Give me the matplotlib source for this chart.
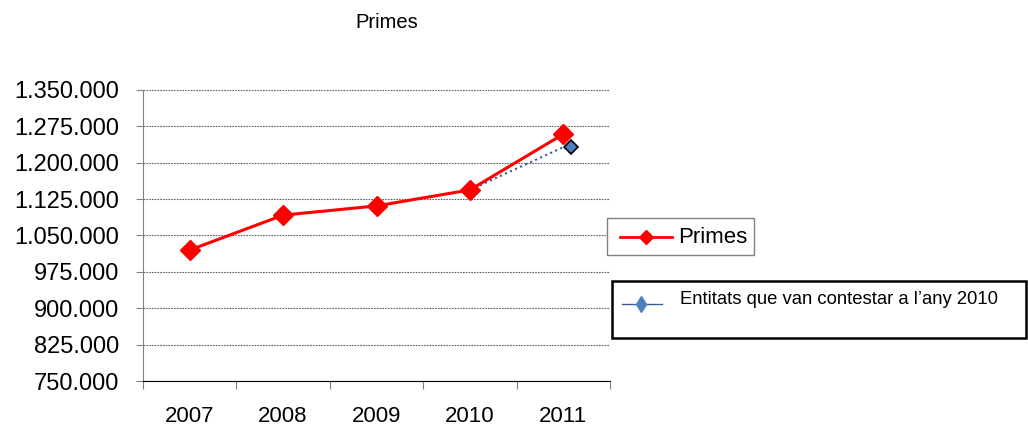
import matplotlib
matplotlib.use("Agg")
import matplotlib.pyplot as plt
from matplotlib.ticker import FuncFormatter, FixedLocator
from matplotlib.patches import Rectangle
from matplotlib.lines import Line2D
import numpy as np

plt.rcParams['font.family'] = ['Liberation Sans', 'DejaVu Sans']

years = ['2007', '2008', '2009', '2010', '2011']
primes = [1020000, 1092000, 1111000, 1144000, 1259000]
entitats = [np.nan, np.nan, np.nan, 1144000, 1232000]
yticks = [750000, 825000, 900000, 975000, 1050000, 1125000, 1200000, 1275000, 1350000]

W, H = 1028, 432
fig = plt.figure(figsize=(W / 100, H / 100), dpi=100)
ax = fig.add_axes([143 / W, (H - 381) / H, (610 - 143) / W, 291 / H])

x = np.arange(len(years))
ax.plot(x, entitats, color='#3A5F8F', linestyle=':', linewidth=1.5, zorder=2)
ax.plot(x[-1:] + 0.08, entitats[-1:], linestyle='none', marker='D', markersize=7,
        markerfacecolor='#4F81BD', markeredgecolor='black', markeredgewidth=1.2, zorder=4)
ax.plot(x, primes, color='#FF0000', linewidth=2.2, marker='D', markersize=10,
        markerfacecolor='#FF0000', markeredgecolor='#FF0000', zorder=3)

ax.set_xlim(-0.5, len(years) - 0.5)
ax.set_ylim(750000, 1350000)
ax.set_yticks(yticks)
ax.yaxis.set_major_formatter(FuncFormatter(lambda v, p: f"{int(v):,}".replace(',', '.')))
ax.xaxis.set_major_locator(FixedLocator(np.arange(-0.5, len(years), 1.0)))
ax.xaxis.set_major_formatter(FuncFormatter(lambda v, p: ''))
ax.set_xticks(x, minor=True)
ax.set_xticklabels(years, minor=True)
ax.tick_params(axis='x', which='minor', length=0, pad=18, labelsize=16)
ax.tick_params(axis='x', which='major', length=6, color='#808080', direction='out')
ax.tick_params(axis='y', length=5, color='#808080', labelsize=17, pad=12)

for s in ['top', 'right']:
    ax.spines[s].set_visible(False)
ax.spines['left'].set_color('#808080')
ax.spines['bottom'].set_color('black')
ax.yaxis.grid(True, linestyle=(0, (1.5, 1)), color='#606060', linewidth=0.8)
ax.set_axisbelow(True)

fig.text(387 / W, 1 - 22 / H, 'Primes', fontsize=14.5, ha='center', va='center')

def fx(px):
    return px / W

def fy(py):
    return 1 - py / H

# legend 1
fig.patches.append(Rectangle((fx(607), fy(255)), fx(754) - fx(607), fy(218) - fy(255),
                             transform=fig.transFigure, fill=True, facecolor='white',
                             edgecolor='#808080', linewidth=1))
fig.lines.append(Line2D([fx(620), fx(672)], [fy(237), fy(237)], transform=fig.transFigure,
                        color='#FF0000', linewidth=2))
fig.lines.append(Line2D([fx(646)], [fy(237)], transform=fig.transFigure, marker='D',
                        markersize=7, color='#FF0000'))
fig.text(fx(678), fy(237), 'Primes', fontsize=16, ha='left', va='center')

# legend 2
fig.patches.append(Rectangle((fx(612), fy(338)), fx(1026) - fx(612), fy(281) - fy(338),
                             transform=fig.transFigure, fill=True, facecolor='white',
                             edgecolor='black', linewidth=1.8))
fig.lines.append(Line2D([fx(622), fx(662)], [fy(304), fy(304)], transform=fig.transFigure,
                        color='#3A5F8F', linewidth=1))
fig.lines.append(Line2D([fx(641)], [fy(304)], transform=fig.transFigure, marker='d',
                        markersize=8, color='#4F81BD'))
fig.text(fx(680), fy(300), 'Entitats que van contestar a l\u2019any 2010', fontsize=13.3,
         ha='left', va='center')

fig.savefig('out.png', dpi=100)
